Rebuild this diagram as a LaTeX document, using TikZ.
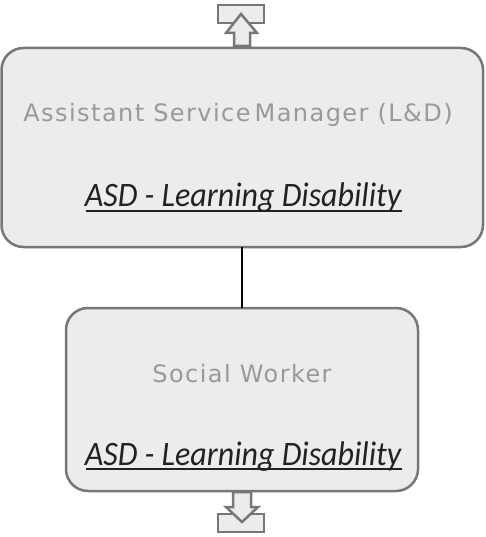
\documentclass[tikz,border=0pt]{standalone}
\usepackage{fontspec}
\setmainfont{DejaVu Sans}
\newfontfamily\titlefont[LetterSpace=6]{DejaVu Sans}
\newfontfamily\asdfont{Carlito}
\definecolor{boxfill}{HTML}{ECECEC}
\definecolor{boxline}{HTML}{777777}
\definecolor{titlegray}{HTML}{999999}
\definecolor{asdcol}{HTML}{222222}
\newcommand{\asdlabel}[1]{\scalebox{1}[1.07]{#1}}
\begin{document}
\begin{tikzpicture}[x=1pt,y=-1pt,
  rolebox/.style={draw=boxline, fill=boxfill, line width=2.5pt, rounded corners=22pt},
  titletext/.style={text=titlegray, font=\titlefont\fontsize{24}{28}\selectfont, inner sep=0pt, anchor=base},
  asdtext/.style={text=asdcol, font=\asdfont\itshape\fontsize{32}{36}\selectfont, inner sep=0pt, anchor=base},
  underl/.style={draw=asdcol, line width=1.6pt},
  iconshape/.style={draw=boxline, fill=boxfill, line width=2.5pt, line join=miter}
]
\useasboundingbox (0,0) rectangle (485,537);
% boxes
\draw[rolebox] (1.5,48) rectangle (483,247);
\draw[rolebox] (66,308) rectangle (418,491);
\coordinate (topb) at (242,247);
\coordinate (botb) at (242,308);
\draw[line width=2pt, black] (topb) -- (botb);
% texts
\node[titletext] (t1) at (238,122) {Assistant Service\,Manager (L\&D)};
\node[asdtext] (a1) at (243,207) {\asdlabel{ASD - Learning Disability}};
\draw[underl] ([xshift=1pt,yshift=-4pt]a1.base west) -- ([xshift=1pt,yshift=-4pt]a1.base east);
\node[titletext] (t2) at (242,382) {Social Worker};
\node[asdtext] (a2) at (243,465) {\asdlabel{ASD - Learning Disability}};
\draw[underl] ([xshift=1pt,yshift=-4pt]a2.base west) -- ([xshift=1pt,yshift=-4pt]a2.base east);
% top icon
\draw[iconshape] (218,5) rectangle (264,23);
\draw[iconshape] (234,46) -- (234,33) -- (226,33) -- (241,14) -- (257,33) -- (250,33) -- (250,46) -- cycle;
% bottom icon
\draw[iconshape] (218,514) rectangle (264,532);
\draw[iconshape] (233,492) -- (233,507) -- (226,507) -- (242,522) -- (258,507) -- (251,507) -- (251,492) -- cycle;
\end{tikzpicture}
\end{document}
